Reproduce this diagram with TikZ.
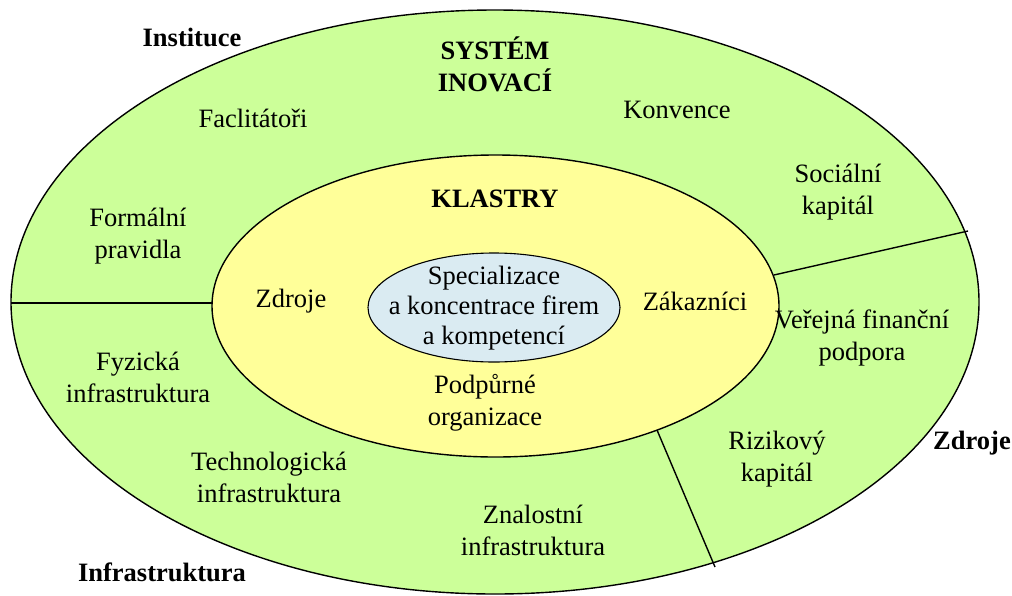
\documentclass[tikz,border=0pt]{standalone}
\usepackage{fontspec}
\setmainfont{Liberation Serif}
\usetikzlibrary{shapes.geometric}
\definecolor{outerg}{HTML}{CCFF99}
\definecolor{inny}{HTML}{FFFF99}
\definecolor{coreb}{HTML}{DAEBF2}
\begin{document}
\begin{tikzpicture}[x=1pt,y=-1pt,
  ring/.style={ellipse, draw=black, line width=1.4pt, inner sep=0pt},
  sep/.style={draw=black, line width=1.4pt},
  txt/.style={font=\fontsize{26.5}{32}\selectfont, align=center, inner sep=0pt},
  ttl/.style={font=\fontsize{26.5}{32}\selectfont\bfseries, align=center, inner sep=0pt}]
\useasboundingbox (0,0) rectangle (1012,595);
% rings
\node[ring, fill=outerg, minimum width=968pt, minimum height=584pt] (outer) at (495,302) {};
\coordinate (l1) at (11,303);
\coordinate (l2) at (214,303);
\coordinate (r1) at (774,275);
\coordinate (r2) at (968,231);
\coordinate (b1) at (657,430);
\coordinate (b2) at (715,567);
\draw[sep] (l1) -- (l2);
\draw[sep] (r1) -- (r2);
\draw[sep] (b1) -- (b2);
\node[ring, fill=inny, minimum width=567pt, minimum height=302pt] (klas) at (495.5,306) {};
\node[ring, fill=coreb, line width=1.1pt, minimum width=252pt, minimum height=109pt] (core) at (494,307.5) {};
% titles
\node[ttl] (inst) at (192,37) {Instituce};
\node[ttl] (sys) at (495,64) {SYSTÉM\\INOVACÍ};
\node[ttl] (klt) at (495,199) {KLASTRY};
\node[ttl] (zdr) at (972,443) {Zdroje};
\node[ttl] (infr) at (162,572) {Infrastruktura};
% outer ring texts
\node[txt] (fac) at (253,118) {Faclitátoři};
\node[txt] (konv) at (677,110) {Konvence};
\node[txt] (soc) at (838,192) {Sociální\\kapitál};
\node[txt] (form) at (138,236) {Formální\\pravidla};
\node[txt] (fyz) at (138,377) {Fyzická\\infrastruktura};
\node[txt] (ver) at (862,338) {Veřejná finanční\\podpora};
\node[txt] (tech) at (269,477) {Technologická\\infrastruktura};
\node[txt] (riz) at (777,459) {Rizikový\\kapitál};
\node[txt] (zna) at (533,530) {Znalostní\\infrastruktura};
% cluster texts
\node[txt] (zdri) at (291,301) {Zdroje};
\node[txt] (zak) at (695,301) {Zákazníci};
\node[txt] (pod) at (485,403) {Podpůrné\\organizace};
\node[txt, font=\fontsize{26.5}{30}\selectfont] (spec) at (494,308) {Specializace\\a koncentrace firem\\a kompetencí};
\end{tikzpicture}
\end{document}
